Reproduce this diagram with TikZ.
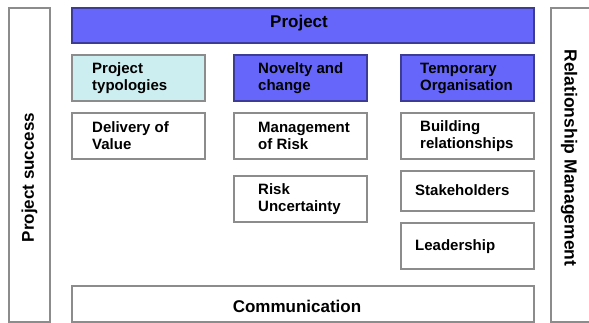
\documentclass[tikz,border=0pt]{standalone}
\usepackage{fontspec}
\setmainfont{Liberation Sans}
\definecolor{pblue}{RGB}{102,102,250}
\definecolor{pblueline}{RGB}{60,60,150}
\definecolor{pcyan}{RGB}{204,238,240}
\definecolor{pgray}{RGB}{140,140,140}
\begin{document}
\begin{tikzpicture}[x=1pt,y=-1pt,
  boxbase/.style={rectangle, inner sep=0pt, line width=1.3pt},
  wbox/.style={boxbase, draw=pgray, fill=white},
  bbox/.style={boxbase, draw=pblueline, fill=pblue},
  cbox/.style={boxbase, draw=pgray, fill=pcyan},
  colbox/.style={minimum width=133pt},
  txt/.style={inner sep=0pt, anchor=west, align=left, font=\fontsize{15}{17}\selectfont\bfseries},
  bigtxt/.style={inner sep=0pt, font=\fontsize{17}{19}\selectfont\bfseries}
]
\useasboundingbox (0,0) rectangle (589,323);
% frame columns
\node[wbox, minimum width=41pt, minimum height=314pt] (left) at (29.5,165) {};
\node[bigtxt, rotate=90] (leftt) at (29.5,177.5) {Project success};
\node[wbox, minimum width=49pt, minimum height=314pt] (right) at (575.5,165) {};
\node[bigtxt, rotate=-90, font=\fontsize{17.5}{19}\selectfont\bfseries] (rightt) at (569,158) {Relationship Management};
% top bar
\node[bbox, minimum width=462pt, minimum height=35pt] (proj) at (303,25.5) {};
\node[bigtxt] (projt) at (299,23) {Project};
% row 1
\node[cbox, colbox, minimum height=46pt] (typ) at (138.5,78) {};
\node[txt] (typt) at (92,78) {Project\\typologies};
\node[bbox, colbox, minimum height=46pt] (nov) at (300.5,78) {};
\node[txt] (novt) at (258,78) {Novelty and\\change};
\node[bbox, colbox, minimum height=46pt] (tmp) at (467.5,78) {};
\node[txt] (tmpt) at (420,78) {Temporary\\Organisation};
% row 2
\node[wbox, colbox, minimum height=46pt] (dv) at (138.5,136) {};
\node[txt] (dvt) at (92,136) {Delivery of\\Value};
\node[wbox, colbox, minimum height=46pt] (mr) at (300.5,136) {};
\node[txt] (mrt) at (258,136) {Management\\of Risk};
\node[wbox, colbox, minimum height=46pt] (br) at (467.5,136) {};
\node[txt] (brt) at (420,136) {Building\\relationships};
% lower boxes
\node[wbox, colbox, minimum height=46pt] (ru) at (300.5,199) {};
\node[txt] (rut) at (258,199) {Risk\\Uncertainty};
\node[wbox, colbox, minimum height=40pt] (sh) at (467.5,191) {};
\node[txt] (sht) at (415,190) {Stakeholders};
\node[wbox, colbox, minimum height=46pt] (ld) at (467.5,246) {};
\node[txt] (ldt) at (415,247) {Leadership};
% bottom bar
\node[wbox, minimum width=462pt, minimum height=36pt] (comm) at (303,304) {};
\node[bigtxt] (commt) at (297,306) {Communication};
\end{tikzpicture}
\end{document}
